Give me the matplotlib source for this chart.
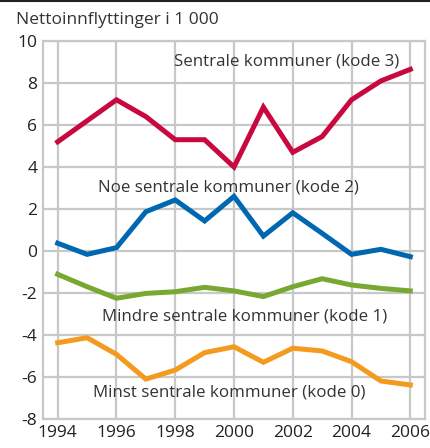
import matplotlib
matplotlib.use('Agg')
import matplotlib.pyplot as plt

plt.rcParams['font.family'] = ['Open Sans', 'DejaVu Sans']
plt.rcParams['axes.unicode_minus'] = False

years = list(range(1994, 2007))
sentrale = [5.2, 6.2, 7.2, 6.4, 5.3, 5.3, 4.0, 6.85, 4.7, 5.45, 7.2, 8.1, 8.65]
noe_sentrale = [0.37, -0.16, 0.16, 1.87, 2.43, 1.43, 2.6, 0.71, 1.82, 0.84, -0.16, 0.08, -0.27]
mindre_sentrale = [-1.11, -1.7, -2.25, -2.02, -1.94, -1.73, -1.9, -2.17, -1.7, -1.32, -1.62, -1.78, -1.9]
minst_sentrale = [-4.37, -4.13, -4.92, -6.1, -5.67, -4.84, -4.56, -5.3, -4.63, -4.76, -5.27, -6.19, -6.38]

series = [
    (sentrale, '#c8083e', 'Sentrale kommuner (kode 3)', 2001.8, 9.0),
    (noe_sentrale, '#0067b1', 'Noe sentrale kommuner (kode 2)', 1999.8, 3.0),
    (mindre_sentrale, '#77a832', 'Mindre sentrale kommuner (kode 1)', 2000.35, -3.1),
    (minst_sentrale, '#f39a1f', 'Minst sentrale kommuner (kode 0)', 1999.85, -6.75),
]

fig = plt.figure(figsize=(4.31, 4.48), dpi=100)
ax = fig.add_axes([43/431, 1 - 419/448, 382/431, 378/448])

grid_c = '#c8c8c8'
for y in range(-8, 11, 2):
    ax.axhline(y, color=grid_c, lw=1.6, zorder=1)
for x in range(1994, 2007, 2):
    ax.axvline(x, color=grid_c, lw=1.6, zorder=1)

for vals, col, label, lx, ly in series:
    ax.plot(years, vals, color=col, lw=3.6, zorder=3, solid_joinstyle='miter')
    ax.text(lx, ly, label, ha='center', va='center', fontsize=12.2, color='#333333', zorder=4)

ax.set_xlim(1993.5, 2006.5)
ax.set_ylim(-8, 10)
ax.set_xticks(range(1994, 2007, 2))
ax.set_yticks(range(-8, 11, 2))
ax.tick_params(length=0, labelsize=12.5, colors='#222222', pad=4)
for s in ax.spines.values():
    s.set_color(grid_c)
    s.set_linewidth(1.6)

fig.text(16/431, 1 - 20/448, 'Nettoinnflyttinger i 1 000', fontsize=12.5, color='#333333', va='center', ha='left')
fig.add_artist(plt.Line2D([0, 1], [1 - 1/448, 1 - 1/448], color='#222222', lw=1.5))

fig.savefig('out.png', dpi=100)
